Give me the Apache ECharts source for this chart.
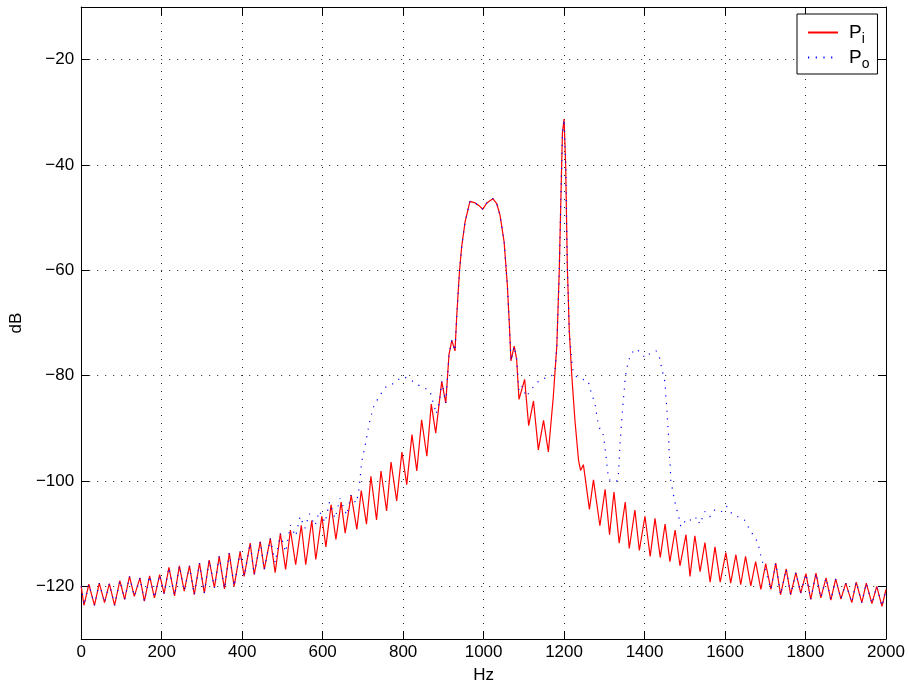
<!DOCTYPE html>
<html>
<head>
<meta charset="utf-8">
<script src="https://cdn.jsdelivr.net/npm/echarts@6/dist/echarts.min.js"></script>
<style>
html,body{margin:0;padding:0;background:#fff;}
#chart{width:909px;height:689px;}
</style>
</head>
<body>
<div id="chart"></div>
<script>
// ---- data ----
const xTicks = [0, 200, 400, 600, 800, 1000, 1200, 1400, 1600, 1800, 2000];
const yTicks = [-120, -100, -80, -60, -40, -20];

const piHz = [0,7,19,33,45,58,70,83,96,108,120,132,146,157,170,182,195,206,218,232,244,256,269,281,294,306,318,331,343,356,368,380,395,405,420,430,445,455,470,482,495,508,520,533,547,558,573,583,598,608,621,633,646,656,671,685,696,709,720,734,745,759,770,784,797,809,822,834,846,859,870,881,896,906,914,921,929,933,940,946,954,966,979,990,998,1008,1023,1033,1041,1051,1059,1064,1068,1076,1082,1088,1102,1112,1124,1136,1149,1161,1173,1182,1188,1193,1196,1200,1204,1208,1213,1219,1227,1236,1241,1248,1263,1273,1289,1302,1313,1324,1337,1352,1362,1376,1387,1401,1414,1426,1439,1451,1463,1476,1488,1503,1513,1525,1538,1550,1563,1575,1588,1602,1614,1627,1639,1651,1664,1676,1689,1701,1714,1726,1738,1752,1763,1776,1788,1801,1813,1826,1838,1851,1863,1875,1888,1900,1915,1926,1940,1951,1965,1977,1990,2000];
const piDb = [-120,-123.6,-119.6,-123.6,-119.4,-123.1,-119.5,-123.6,-118.9,-122.5,-118.1,-121.9,-118.4,-122.8,-118.0,-122.2,-117.8,-121.4,-116.4,-121.8,-116.1,-120.9,-116.1,-121.6,-115.6,-121.3,-115.0,-120.3,-114.3,-120.5,-113.7,-120.0,-113.4,-118.1,-111.8,-117.8,-111.5,-116.8,-110.9,-117.4,-110.0,-116.8,-109.3,-115.9,-108.4,-115.9,-107.5,-114.9,-106.7,-112.5,-104.5,-111.1,-104.0,-109.9,-102.7,-109.2,-101.8,-108.2,-99.1,-107.4,-98.1,-105.7,-96.4,-103.8,-94.5,-100.7,-91.2,-98.1,-88.4,-95.3,-85.4,-90.9,-81.1,-85.2,-76.0,-73.3,-75.3,-69.0,-60.2,-55.2,-50.8,-46.9,-47.2,-47.8,-48.4,-47.2,-46.4,-47.4,-49.6,-54.6,-62.8,-70.3,-77.2,-74.4,-76.8,-84.5,-80.7,-89.5,-84.8,-94.1,-88.5,-94.5,-84.2,-74.3,-60.2,-43.3,-33.8,-31.3,-40.1,-59.0,-71.6,-79.8,-88.5,-96.1,-98.0,-96.9,-105.4,-99.8,-108.5,-101.6,-110.2,-102.1,-111.8,-104.0,-112.8,-105.5,-113.2,-106.7,-114.3,-107.1,-114.5,-108.2,-115.3,-109.3,-116.1,-110.2,-118.1,-110.4,-117.2,-111.7,-119.2,-112.5,-119.2,-113.6,-119.4,-114.0,-119.7,-114.3,-119.9,-115.3,-120.6,-115.7,-120.6,-115.6,-121.6,-116.7,-121.6,-117.4,-121.3,-117.6,-122.5,-117.5,-122.2,-118.4,-122.6,-118.6,-122.4,-119.4,-123.1,-119.2,-123.1,-119.4,-123.3,-120.0,-123.8,-120.6];

const poHz = [0,7,19,33,45,58,70,83,96,108,120,132,146,157,170,182,195,206,218,232,244,256,269,281,294,306,318,331,343,356,368,380,395,405,420,430,445,455,470,482,495,508,520,533,544,556,567,581,592,606,617,631,643,660,670,683,689,693,697,701,705,709,716,726,735,747,758,770,784,801,817,838,852,867,871,878,882,890,896,906,914,921,929,933,940,946,954,966,979,990,998,1008,1023,1033,1041,1051,1059,1064,1068,1076,1082,1088,1096,1106,1115,1125,1140,1155,1169,1178,1182,1188,1193,1196,1200,1204,1208,1213,1219,1223,1231,1246,1260,1265,1271,1277,1283,1289,1295,1299,1304,1308,1311,1316,1323,1331,1335,1337,1339,1342,1345,1349,1352,1356,1360,1368,1379,1393,1401,1409,1429,1437,1441,1445,1451,1453,1455,1457,1460,1461,1464,1465,1470,1474,1480,1486,1490,1497,1507,1521,1530,1537,1550,1562,1575,1592,1604,1617,1632,1648,1662,1672,1680,1685,1689,1691,1697,1701,1714,1726,1738,1752,1763,1776,1788,1801,1813,1826,1838,1851,1863,1875,1888,1900,1915,1926,1940,1951,1965,1977,1990,2000];
const poDb = [-120,-123.6,-119.6,-123.6,-119.4,-123.1,-119.5,-123.6,-118.9,-122.5,-118.1,-121.9,-118.4,-122.8,-118.0,-122.2,-117.8,-121.4,-116.4,-121.8,-116.1,-120.9,-116.1,-121.6,-115.6,-121.3,-115.0,-120.3,-114.3,-120.5,-113.7,-120.0,-113.4,-118.1,-111.8,-117.8,-111.5,-116.8,-110.9,-115.5,-110.0,-113.5,-108.4,-110.5,-106.7,-109.0,-106.2,-108.5,-105.7,-107.9,-104.0,-107.1,-103.3,-106.5,-102.7,-104.2,-102.4,-99.6,-96.4,-95.0,-93.5,-91.9,-89.0,-86.0,-84.7,-83.2,-82.1,-81.8,-80.9,-80.2,-80.7,-81.8,-82.3,-82.9,-84.2,-85.9,-87.3,-85.0,-81.1,-85.2,-76.0,-73.3,-75.3,-69.0,-60.2,-55.2,-50.8,-46.9,-47.2,-47.8,-48.4,-47.2,-46.4,-47.4,-49.6,-54.6,-62.8,-70.3,-77.2,-74.4,-76.8,-83.0,-82.0,-84.0,-83.0,-82.0,-80.8,-80.4,-80.0,-78.6,-74.3,-60.2,-43.3,-33.8,-31.3,-40.1,-59.0,-71.6,-77.2,-79.4,-80.2,-80.7,-81.0,-82.6,-84.0,-85.4,-88.4,-90.1,-90.4,-92.0,-95.2,-98.0,-99.6,-100.0,-100.2,-100.0,-98.6,-96.1,-93.0,-89.8,-86.7,-83.2,-80.4,-78.5,-77.2,-75.7,-74.9,-75.8,-76.6,-76.0,-75.3,-76.5,-78.0,-79.4,-81.3,-84.2,-85.7,-88.5,-91.7,-94.5,-97.4,-99.9,-101.8,-103.6,-105.4,-107.1,-108.7,-108.0,-107.1,-107.7,-106.8,-108.2,-105.8,-106.8,-105.4,-105.8,-104.8,-106.2,-106.8,-107.4,-109.3,-110.5,-111.5,-112.8,-114.3,-115.0,-116.0,-115.7,-120.6,-115.6,-121.6,-116.7,-121.6,-117.4,-121.3,-117.6,-122.5,-117.5,-122.2,-118.4,-122.6,-118.6,-122.4,-119.4,-123.1,-119.2,-123.1,-119.4,-123.3,-120.0,-123.8,-120.6];

const seriesNames = ['Pi', 'Po'];
const subscripts = {Pi: 'i', Po: 'o'};

// ---- chart ----
const FONT = '"Liberation Sans", Arial, Helvetica, sans-serif';
const zip = (xs, ys) => xs.map((x, i) => [x, ys[i]]);
const minus = v => String(v).replace('-', '\u2212');

const chart = echarts.init(document.getElementById('chart'), null, {renderer: 'canvas'});
const gridDots = {show: true, lineStyle: {color: '#222', width: 1, type: [1, 7]}};
const axisLineStyle = {show: true, onZero: false, lineStyle: {color: '#000', width: 1}};

chart.setOption({
  animation: false,
  backgroundColor: '#fff',
  grid: {left: 80, right: 23, top: 7, bottom: 46, containLabel: false},
  xAxis: [{
    type: 'value', min: 0, max: 2000, interval: 200, position: 'bottom',
    name: 'Hz', nameLocation: 'middle', nameGap: 28,
    nameTextStyle: {fontFamily: FONT, fontSize: 17, color: '#000'},
    axisLine: axisLineStyle,
    axisTick: {show: true, inside: true, length: 8, lineStyle: {color: '#000'}, customValues: xTicks},
    axisLabel: {fontFamily: FONT, fontSize: 17, color: '#000', margin: 5, customValues: xTicks, formatter: v => String(v)},
    splitLine: gridDots
  }, {
    type: 'value', min: 0, max: 2000, interval: 200, position: 'top',
    axisLine: axisLineStyle,
    axisTick: {show: true, inside: true, length: 8, lineStyle: {color: '#000'}, customValues: xTicks},
    axisLabel: {show: false},
    splitLine: {show: false}
  }],
  yAxis: [{
    type: 'value', min: -130, max: -10, position: 'left',
    name: 'dB', nameLocation: 'middle', nameGap: 45, nameRotate: 90,
    nameTextStyle: {fontFamily: FONT, fontSize: 17, color: '#000'},
    axisLine: axisLineStyle,
    axisTick: {show: true, inside: true, length: 8, lineStyle: {color: '#000'}, customValues: yTicks},
    axisLabel: {fontFamily: FONT, fontSize: 17, color: '#000', margin: 7, customValues: yTicks, formatter: minus},
    splitLine: gridDots
  }, {
    type: 'value', min: -130, max: -10, position: 'right',
    axisLine: axisLineStyle,
    axisTick: {show: true, inside: true, length: 8, lineStyle: {color: '#000'}, customValues: yTicks},
    axisLabel: {show: false},
    splitLine: {show: false}
  }],
  legend: {
    orient: 'vertical', left: 797, top: 14,
    padding: [9, 8, 3, 10], itemGap: 2, itemWidth: 30, itemHeight: 14,
    backgroundColor: '#fff', borderColor: '#000', borderWidth: 1, borderRadius: 0,
    itemStyle: {opacity: 0},
    data: seriesNames,
    formatter: name => '{p|P}{s|' + subscripts[name] + '}',
    textStyle: {
      fontFamily: FONT, color: '#000',
      rich: {
        p: {fontFamily: FONT, fontSize: 19, color: '#000', padding: [0, 0, 0, 6]},
        s: {fontFamily: FONT, fontSize: 14, color: '#000', padding: [13, 0, 0, 0]}
      }
    }
  },
  series: [{
    name: 'Pi', type: 'line', xAxisIndex: 0, yAxisIndex: 0,
    data: zip(piHz, piDb), symbol: 'none', smooth: false,
    lineStyle: {color: '#ff0000', width: 1.2},
    itemStyle: {color: '#ff0000'}, z: 3
  }, {
    name: 'Po', type: 'line', xAxisIndex: 0, yAxisIndex: 0,
    data: zip(poHz, poDb), symbol: 'none', smooth: false,
    lineStyle: {color: '#0000ff', width: 1.2, type: [1.2, 6.5]},
    itemStyle: {color: '#0000ff'}, z: 4
  }]
});
</script>
</body>
</html>
